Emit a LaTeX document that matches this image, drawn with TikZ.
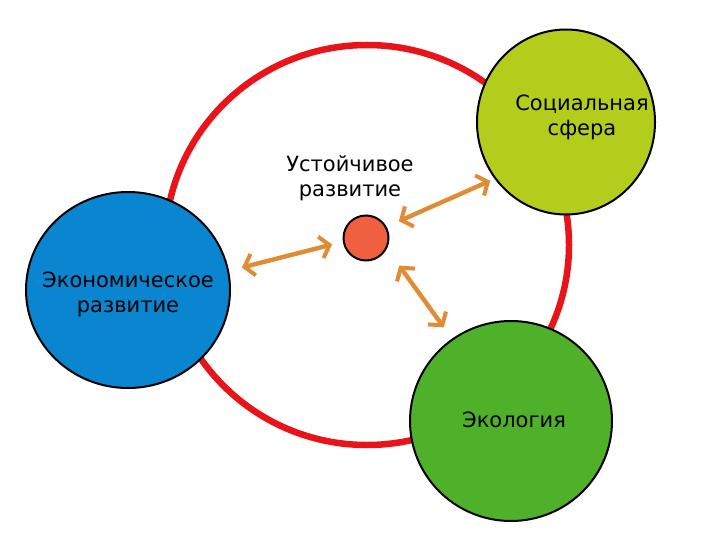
\documentclass[tikz,border=0pt]{standalone}
\usepackage{fontspec}
\setmainfont{DejaVu Sans}
\usetikzlibrary{arrows.meta,shapes.geometric}
\definecolor{ringred}{HTML}{E8141A}
\definecolor{econblue}{HTML}{0A86D0}
\definecolor{socgreen}{HTML}{B4CD1C}
\definecolor{ecogreen}{HTML}{4FB12A}
\definecolor{dotred}{HTML}{EF5F40}
\definecolor{arroworange}{HTML}{E08C34}
\tikzset{
  x=1pt, y=-1pt,
  bigcirc/.style={ellipse, draw=black, line width=2pt, inner sep=0pt},
  txt/.style={align=center, font=\fontsize{21}{25}\selectfont, inner sep=0pt},
  link/.style={draw=arroworange, line width=4.4pt, {Straight Barb[length=9pt,width=22pt,line width=4pt]}-{Straight Barb[length=9pt,width=22pt,line width=4pt]}, shorten <=2pt, shorten >=2pt}
}
\begin{document}
\begin{tikzpicture}
\useasboundingbox[fill=white] (0,0) rectangle (708,537);
\draw[ringred, line width=6.5pt] (367,245) ellipse [x radius=202, y radius=200];
\node[bigcirc, fill=econblue, minimum width=204pt, minimum height=196pt] (econ) at (128,290) {};
\node[txt] (econt) at (128,294) {Экономическое\\развитие};
\node[bigcirc, fill=socgreen, minimum width=178pt, minimum height=185pt] (soc) at (566,122) {};
\node[txt] (soct) at (582,117) {Социальная\\сфера};
\node[bigcirc, fill=ecogreen, minimum width=202pt, minimum height=200pt] (eco) at (511,421) {};
\node[txt] (ecot) at (514,420) {Экология};
\node[circle, draw=black, line width=2pt, fill=dotred, minimum size=45pt, inner sep=0pt] (dot) at (366,238) {};
\node[txt] (lbl) at (350,178) {Устойчивое\\развитие};
\coordinate (a1) at (240,268);
\coordinate (a2) at (334,244);
\coordinate (b1) at (397,222);
\coordinate (b2) at (492,180);
\coordinate (c1) at (398,264);
\coordinate (c2) at (445,329);
\draw[link] (a1) -- (a2);
\draw[link] (b1) -- (b2);
\draw[link] (c1) -- (c2);
\end{tikzpicture}
\end{document}
